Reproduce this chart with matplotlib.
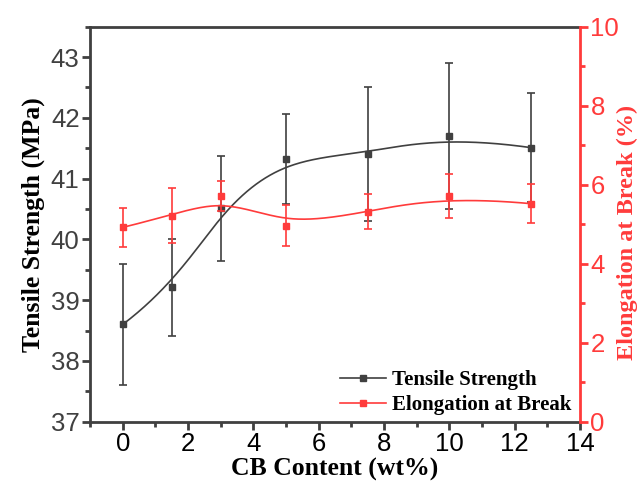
import numpy as np
import matplotlib
matplotlib.use("Agg")
import matplotlib.pyplot as plt
from matplotlib.ticker import MultipleLocator

cb = [0, 1.5, 3, 5, 7.5, 10, 12.5]
tensile = [38.6, 39.21, 40.51, 41.32, 41.41, 41.7, 41.51]
tensile_err = [1.0, 0.8, 0.86, 0.74, 1.1, 1.2, 0.9]
elong = [4.92, 5.22, 5.72, 4.96, 5.32, 5.71, 5.52]
elong_err = [0.5, 0.7, 0.38, 0.52, 0.45, 0.56, 0.5]

GRAY = "#404040"
RED = "#ff3b3b"


def bspline(xs, ys, n=300):
    # clamped cubic B-spline using the data points as control points
    P = np.column_stack([xs, ys])
    m = len(P)
    k = 3
    knots = np.concatenate([np.zeros(k), np.arange(m - k + 1), np.full(k, m - k)]).astype(float)
    t = np.linspace(0, m - k, n)
    t[-1] -= 1e-9
    N = np.zeros((n, len(knots) - 1))
    for i in range(len(knots) - 1):
        N[:, i] = (t >= knots[i]) & (t < knots[i + 1])
    for d in range(1, k + 1):
        Nn = np.zeros((n, len(knots) - 1 - d))
        for i in range(len(knots) - 1 - d):
            a = knots[i + d] - knots[i]
            b = knots[i + d + 1] - knots[i + 1]
            term = 0
            if a > 0:
                term = term + (t - knots[i]) / a * N[:, i]
            if b > 0:
                term = term + (knots[i + d + 1] - t) / b * N[:, i + 1]
            Nn[:, i] = term
        N = Nn
    C = N @ P
    return C[:, 0], C[:, 1]


plt.rcParams["font.family"] = "Liberation Sans"
fig = plt.figure(figsize=(6.44, 4.91), dpi=100)
ax = fig.add_axes([0.1398, 0.1411, 0.7608, 0.8045])
ax2 = ax.twinx()

sx, sy = bspline(cb, tensile)
ax.plot(sx, sy, color=GRAY, lw=1.2)
ax.errorbar(cb, tensile, yerr=tensile_err, fmt="none", ecolor=GRAY, elinewidth=1.2,
            capsize=3.2, capthick=1.2)
ax.plot(cb, tensile, "s", color=GRAY, ms=5)
l1, = ax.plot([], [], "-s", color=GRAY, ms=5, lw=1.2, label="Tensile Strength")

ex, ey = bspline(cb, elong)
ax2.plot(ex, ey, color=RED, lw=1.2)
ax2.errorbar(cb, elong, yerr=elong_err, fmt="none", ecolor=RED, elinewidth=1.2,
             capsize=3.2, capthick=1.2)
ax2.plot(cb, elong, "s", color=RED, ms=5)
l2, = ax2.plot([], [], "-s", color=RED, ms=5, lw=1.2, label="Elongation at Break")

ax.set_xlim(-1, 14)
ax.set_ylim(37, 43.5)
ax2.set_ylim(0, 10)

ax.xaxis.set_major_locator(MultipleLocator(2))
ax.xaxis.set_minor_locator(MultipleLocator(1))
ax.yaxis.set_major_locator(MultipleLocator(1))
ax.yaxis.set_minor_locator(MultipleLocator(0.5))
ax2.yaxis.set_major_locator(MultipleLocator(2))
ax2.yaxis.set_minor_locator(MultipleLocator(1))

for s in ["left", "bottom", "top"]:
    ax.spines[s].set_color(GRAY)
    ax.spines[s].set_linewidth(2)
ax.spines["right"].set_visible(False)
for s in ["left", "bottom", "top"]:
    ax2.spines[s].set_visible(False)
ax2.spines["right"].set_color(RED)
ax2.spines["right"].set_linewidth(2)

ax.tick_params(axis="x", which="major", direction="out", length=5.5, width=2, color=GRAY,
               labelsize=18.5, labelcolor="black", pad=2)
ax.tick_params(axis="x", which="minor", direction="out", length=3.5, width=2, color=GRAY)
ax.tick_params(axis="y", which="major", direction="out", length=5.5, width=2, color=GRAY,
               labelsize=18.5, labelcolor=GRAY, pad=2)
ax.tick_params(axis="y", which="minor", direction="out", length=3.5, width=2, color=GRAY)
ax2.tick_params(axis="y", which="major", direction="out", length=5.5, width=2, color=RED,
                labelsize=18.5, labelcolor=RED, pad=2)
ax2.tick_params(axis="y", which="minor", direction="out", length=3.5, width=2, color=RED)

lab = dict(family="Liberation Serif", fontweight="bold", fontsize=18.5)
ax.set_xlabel("CB Content (wt%)", labelpad=1, **lab)
ax.set_ylabel("Tensile Strength (MPa)", labelpad=4, **lab)
ax2.set_ylabel("Elongation at Break (%)", color=RED,
               family="Liberation Serif", fontweight="bold", fontsize=17.5)
ax2.yaxis.set_label_coords(1.075, 0.478)

ax2.legend(handles=[l1, l2], loc="lower right", bbox_to_anchor=(1.0, -0.005),
           frameon=False, prop=dict(family="Liberation Serif", weight="bold", size=15),
           handlelength=2.2, handletextpad=0.3, borderaxespad=0, labelspacing=0.25)

fig.savefig("out.png", dpi=100)
